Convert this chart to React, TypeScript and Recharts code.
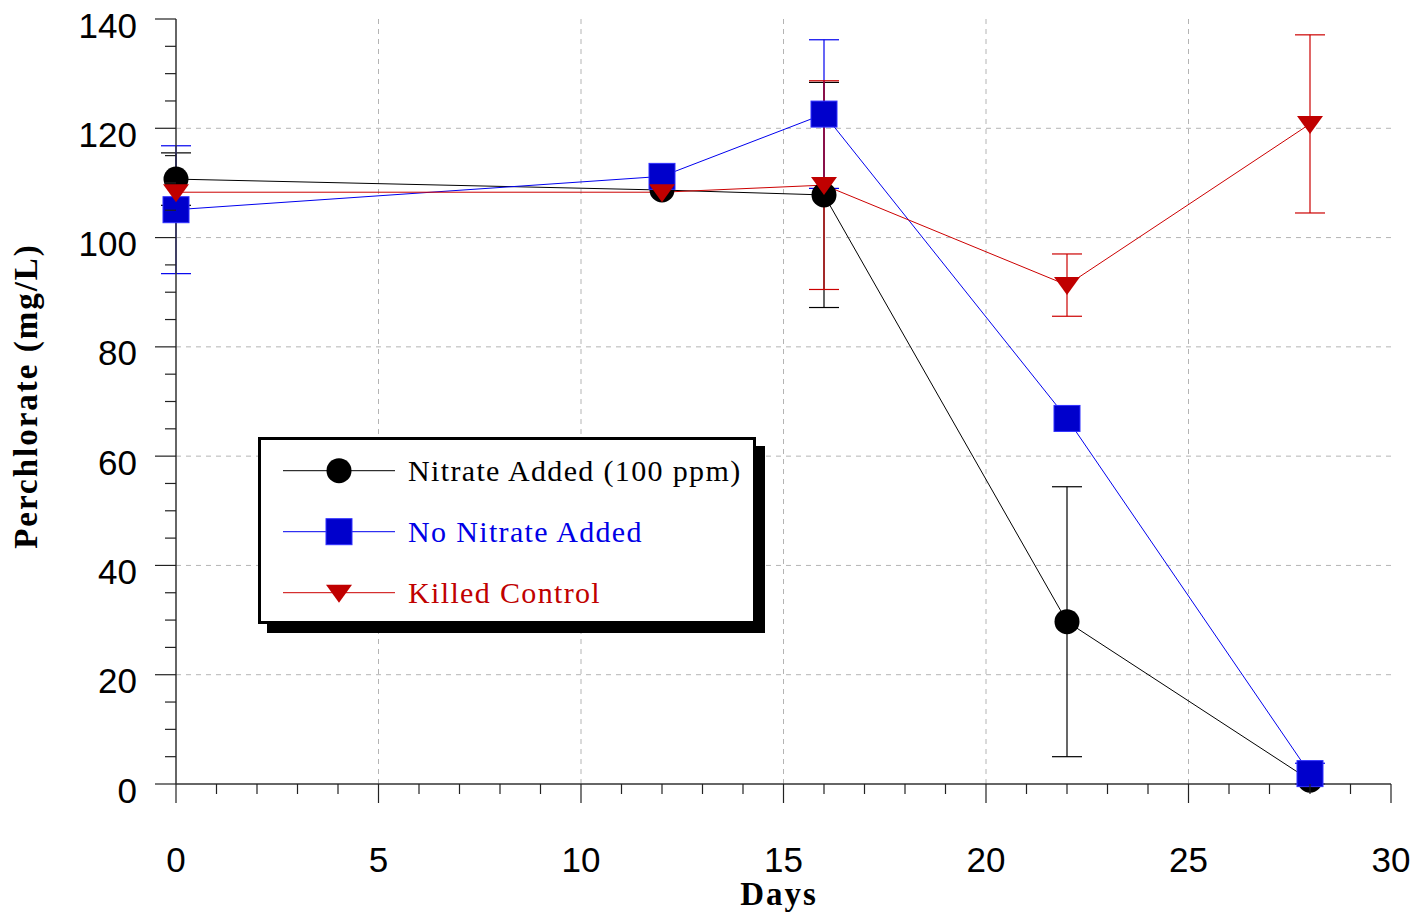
import { ComposedChart, Line, XAxis, YAxis, CartesianGrid, ErrorBar } from "recharts";

// sampling days
const DAYS = [0, 12, 16, 22, 28];

// perchlorate (mg/L)
const NITRATE = [110.7, 108.7, 107.8, 29.7, 0.7];
const NITRATE_ERR = [4.8, 0, 20.6, 24.7, 0];
const NO_NITRATE = [105.1, 111.2, 122.6, 66.9, 1.9];
const NO_NITRATE_ERR = [11.7, 0, 13.6, 0, 1.9];
const KILLED = [108.3, 108.3, 109.6, 91.3, 120.8];
const KILLED_ERR = [0, 0, 19.1, 5.7, 16.3];

const X_TICKS = Array.from({ length: 31 }, (_, i) => i);
const Y_TICKS = Array.from({ length: 29 }, (_, i) => i * 5);
const X_GRID = [5, 10, 15, 20, 25];
const Y_GRID = [20, 40, 60, 80, 100, 120];

const SERIES = [
  { key: "nitrate", err: "nitrateErr", name: "Nitrate Added (100 ppm)", line: "#000000", text: "#000000", marker: "circle" },
  { key: "noNitrate", err: "noNitrateErr", name: "No Nitrate Added", line: "#0000ee", text: "#0000e6", marker: "square" },
  { key: "killed", err: "killedErr", name: "Killed Control", line: "#cc0000", text: "#c00000", marker: "triangle" },
];

const rows = DAYS.map((day, i) => ({
  day,
  nitrate: NITRATE[i],
  nitrateErr: NITRATE_ERR[i],
  noNitrate: NO_NITRATE[i],
  noNitrateErr: NO_NITRATE_ERR[i],
  killed: KILLED[i],
  killedErr: KILLED_ERR[i],
}));

const SANS = '"Liberation Sans", Arial, sans-serif';
const SERIF = '"Liberation Serif", "Times New Roman", serif';

function Marker({ kind, cx, cy }: { kind: string; cx: number; cy: number }) {
  if (kind === "circle") return <circle cx={cx} cy={cy} r={12.5} fill="#000" />;
  if (kind === "square")
    return <rect x={cx - 13} y={cy - 13} width={26} height={26} fill="#0000cc" stroke="#3030ff" strokeWidth={1} />;
  return <polygon points={`${cx - 13},${cy - 8} ${cx + 13},${cy - 8} ${cx},${cy + 10}`} fill="#c00000" />;
}

function XTick(props: any) {
  const { x, y, payload } = props;
  const v = payload.value as number;
  const major = v % 5 === 0;
  return (
    <g>
      <line x1={x} x2={x} y1={y} y2={y + (major ? 19 : 10)} stroke="#222" strokeWidth={1.2} />
      {major && (
        <text x={x} y={y + 88} textAnchor="middle" fontFamily={SANS} fontSize={35} fill="#000">
          {v}
        </text>
      )}
    </g>
  );
}

function YTick(props: any) {
  const { x, y, payload } = props;
  const v = payload.value as number;
  const major = v % 20 === 0;
  return (
    <g>
      <line x1={x - (major ? 21 : 11)} x2={x} y1={y} y2={y} stroke="#222" strokeWidth={1.2} />
      {major && (
        <text x={x - 39} y={y + 18.5} textAnchor="end" fontFamily={SANS} fontSize={35} fill="#000">
          {v}
        </text>
      )}
    </g>
  );
}

function YTitle() {
  return (
    <text
      x={37}
      y={396}
      transform="rotate(-90 37 396)"
      textAnchor="middle"
      fontFamily={SERIF}
      fontWeight="bold"
      fontSize={33}
      letterSpacing={2}
      fill="#000"
    >
      Perchlorate (mg/L)
    </text>
  );
}

function XTitle() {
  return (
    <text x={779} y={905} textAnchor="middle" fontFamily={SERIF} fontWeight="bold" fontSize={33} letterSpacing={2} fill="#000">
      Days
    </text>
  );
}

function LegendBox() {
  return (
    <div
      style={{
        position: "absolute",
        left: 258,
        top: 437,
        width: 498,
        height: 187,
        boxSizing: "border-box",
        border: "3px solid #000",
        background: "#fff",
        boxShadow: "9px 9px 0 #000",
      }}
    >
      <svg width={492} height={181} style={{ position: "absolute", left: 0, top: 0 }}>
        {SERIES.map((s, i) => {
          const cy = 30.7 + i * 61;
          return (
            <g key={s.key}>
              <line x1={22} x2={134} y1={cy} y2={cy} stroke={s.line} strokeWidth={1} />
              <Marker kind={s.marker} cx={78} cy={cy} />
              <text x={147} y={cy + 10.5} fontFamily={SERIF} fontSize={30} letterSpacing={1.35} fill={s.text}>
                {s.name}
              </text>
            </g>
          );
        })}
      </svg>
    </div>
  );
}

export default function App() {
  return (
    <div style={{ position: "absolute", left: 0, top: 0, width: 1413, height: 915, background: "#fff" }}>
      <ComposedChart width={1413} height={915} data={rows} margin={{ top: 19, right: 22, bottom: 31, left: 100 }}>
        <CartesianGrid
          stroke="#b4b4b4"
          strokeDasharray="5 5"
          horizontalValues={Y_GRID}
          verticalValues={X_GRID}
        />
        <XAxis
          dataKey="day"
          type="number"
          domain={[0, 30]}
          ticks={X_TICKS}
          interval={0}
          tick={<XTick />}
          tickLine={false}
          tickSize={0}
          tickMargin={0}
          height={100}
          axisLine={{ stroke: "#333", strokeWidth: 1.5 }}
          label={<XTitle />}
        />
        <XAxis
          xAxisId="top"
          orientation="top"
          type="number"
          domain={[0, 30]}
          tick={false}
          tickLine={false}
          height={0}
          axisLine={{ stroke: "#555", strokeWidth: 1.5 }}
        />
        <YAxis
          type="number"
          domain={[0, 140]}
          ticks={Y_TICKS}
          interval={0}
          tick={<YTick />}
          tickLine={false}
          tickSize={0}
          tickMargin={0}
          width={76}
          axisLine={{ stroke: "#333", strokeWidth: 1.5 }}
          label={<YTitle />}
        />
        <YAxis
          yAxisId="right"
          orientation="right"
          type="number"
          domain={[0, 140]}
          tick={false}
          tickLine={false}
          width={0}
          axisLine={{ stroke: "#555", strokeWidth: 1.5 }}
        />
        {SERIES.map((s) => (
          <Line
            key={s.key}
            dataKey={s.key}
            name={s.name}
            type="linear"
            stroke={s.line}
            strokeWidth={1}
            isAnimationActive={false}
            activeDot={false}
            dot={(p: any) => <Marker key={`${s.key}-${p.index}`} kind={s.marker} cx={p.cx} cy={p.cy} />}
          >
            <ErrorBar dataKey={s.err} direction="y" width={15} stroke={s.line} strokeWidth={1.2} isAnimationActive={false} />
          </Line>
        ))}
      </ComposedChart>
      <LegendBox />
    </div>
  );
}
